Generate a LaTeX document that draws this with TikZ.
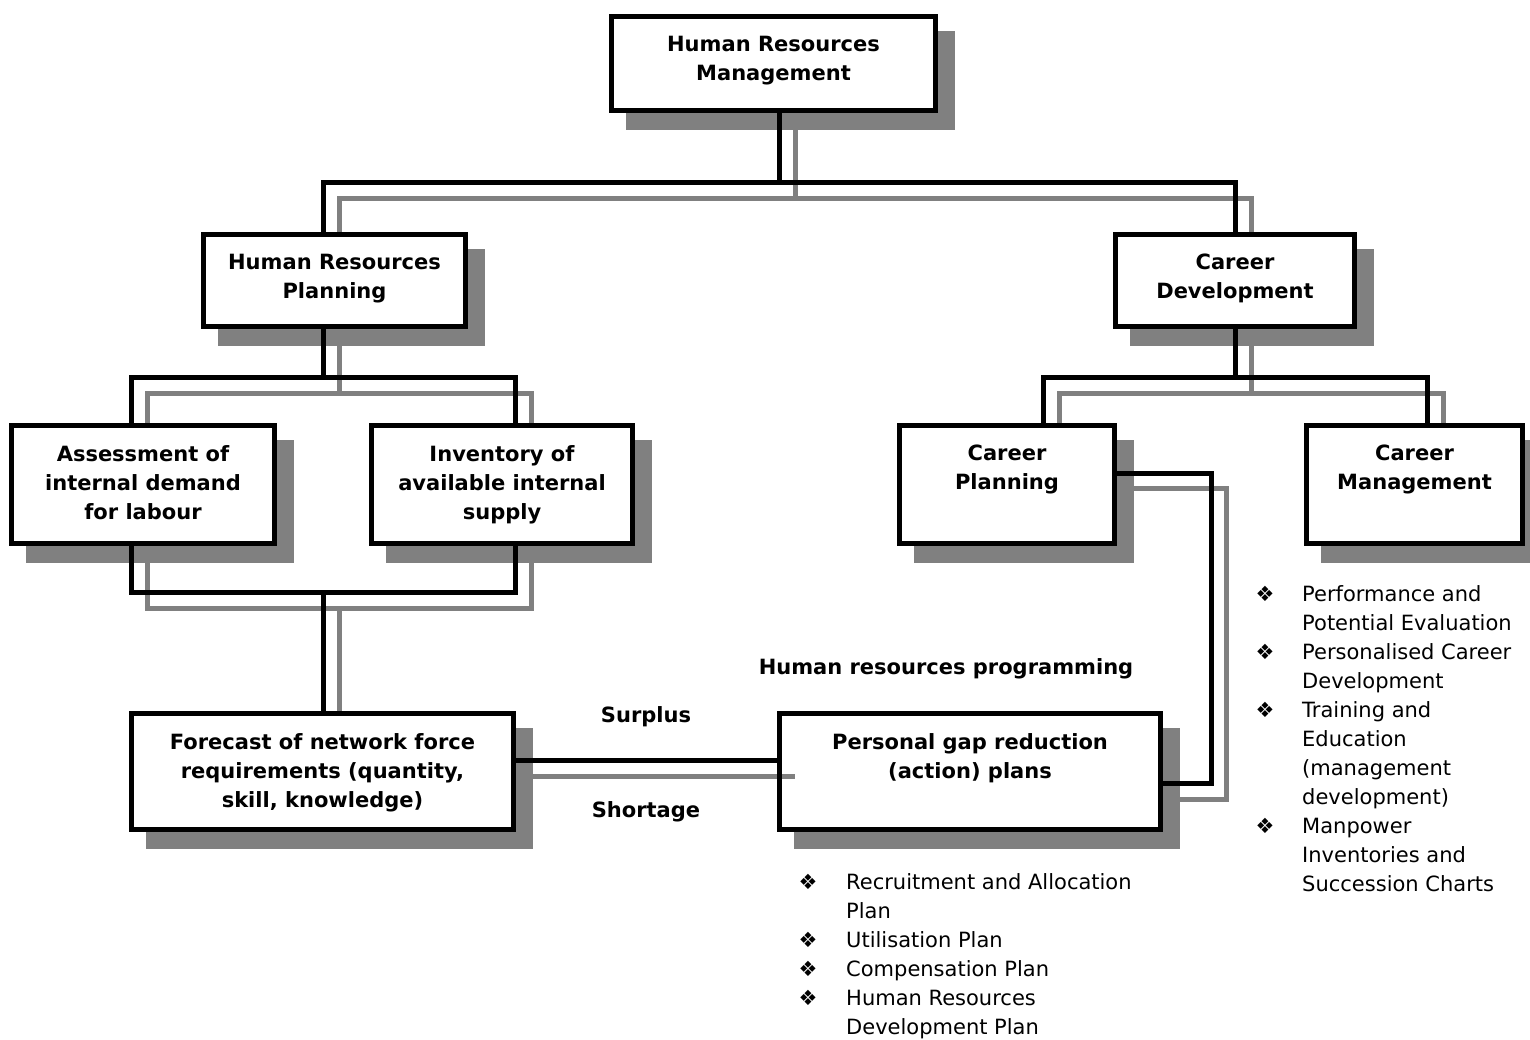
\documentclass[tikz,border=0pt]{standalone}
\usepackage{fontspec}
\setmainfont{DejaVu Sans}
\usetikzlibrary{calc}
\pgfdeclarelayer{back}
\pgfsetlayers{back,main}
\definecolor{shd}{HTML}{808080}
\begin{document}
\begin{tikzpicture}[x=1pt,y=-1pt,
  boxst/.style={draw=black, line width=5pt, inner sep=0pt, outer sep=2.5pt, anchor=north west},
  btxt/.style={font=\bfseries\fontsize{21}{29}\selectfont, align=center, inner sep=0pt, anchor=north},
  lbl/.style={font=\bfseries\fontsize{21}{29}\selectfont, inner sep=0pt, anchor=base},
  itm/.style={font=\fontsize{21}{29}\selectfont, inner sep=0pt, anchor=base west},
  bul/.style={font=\fontsize{21}{21}\selectfont, inner sep=0pt, anchor=center},
  blk/.style={line width=5pt, black, line join=miter},
  gry/.style={line width=5pt, shd, line join=miter}]
\useasboundingbox (0,0) rectangle (1530,1040);

% boxes
\node[boxst, minimum width=324pt, minimum height=94pt] (hrm) at (609,14) {};
\node[boxst, minimum width=262pt, minimum height=92pt] (hrp) at (201,232) {};
\node[boxst, minimum width=239pt, minimum height=92pt] (cd) at (1113,232) {};
\node[boxst, minimum width=263pt, minimum height=118pt] (as) at (9,423) {};
\node[boxst, minimum width=261pt, minimum height=118pt] (inv) at (369,423) {};
\node[boxst, minimum width=215pt, minimum height=118pt] (cp) at (897,423) {};
\node[boxst, minimum width=216pt, minimum height=118pt] (cm) at (1304,423) {};
\node[boxst, minimum width=382pt, minimum height=116pt] (fc) at (129,711) {};
\node[boxst, minimum width=381pt, minimum height=116pt] (pg) at (777,711) {};

% box texts
\node[btxt] (hrmT) at ([yshift=-22pt]hrm.north) {Human Resources\\Management};
\node[btxt] (hrpT) at ([yshift=-22pt]hrp.north) {Human Resources\\Planning};
\node[btxt] (cdT) at ([yshift=-22pt]cd.north) {Career\\Development};
\node[btxt] (asT) at ([yshift=-22pt]as.north) {Assessment of\\internal demand\\for labour};
\node[btxt] (invT) at ([yshift=-22pt]inv.north) {Inventory of\\available internal\\supply};
\node[btxt] (cpT) at ([yshift=-22pt]cp.north) {Career\\Planning};
\node[btxt] (cmT) at ([yshift=-22pt]cm.north) {Career\\Management};
\node[btxt] (fcT) at ([yshift=-22pt]fc.north) {Forecast of network force\\requirements (quantity,\\skill, knowledge)};
\node[btxt] (pgT) at ([yshift=-22pt]pg.north) {Personal gap reduction\\(action) plans};

% free labels
\node[lbl] (surplus) at (646,722) {Surplus};
\node[lbl] (shortage) at (646,817) {Shortage};
\node[lbl] (hrprog) at (946,674) {Human resources programming};

% junction coordinates
\coordinate (bJ) at (779,183);  \coordinate (bA) at (323,183);  \coordinate (bB) at (1235,183);
\coordinate (gJ) at (795,199);  \coordinate (gA) at (339,199);  \coordinate (gB) at (1251,199);
\coordinate (cJ) at (323,377);  \coordinate (cL) at (131,377);  \coordinate (cR) at (515,377);
\coordinate (gcJ) at (339,393); \coordinate (gcL) at (147,393); \coordinate (gcR) at (531,393);
\coordinate (dJ) at (1235,377); \coordinate (dL) at (1043,377); \coordinate (dR) at (1427,377);
\coordinate (gdJ) at (1251,393);\coordinate (gdL) at (1059,393);\coordinate (gdR) at (1443,393);
\coordinate (eJ) at (323,592);  \coordinate (eL) at (131,592);  \coordinate (eR) at (515,592);
\coordinate (geJ) at (339,608); \coordinate (geL) at (147,608); \coordinate (geR) at (531,608);
\coordinate (sB) at (640,760.5); \coordinate (sG) at (795,776);
\coordinate (k1) at (1211,473); \coordinate (k2) at (1211,783);
\coordinate (gk1) at (1226.5,488); \coordinate (gk2) at (1226.5,799);

\begin{pgfonlayer}{back}
  \foreach \n in {hrm,hrp,cd,as,inv,cp,cm,fc,pg}
    {\fill[shd] ([shift={(17,17)}]\n.north west) rectangle ([shift={(17,17)}]\n.south east);}
  \foreach \n in {hrm,hrp,cd,as,inv,cp,cm,fc,pg}
    {\fill[white] (\n.north west) rectangle (\n.south east);}
  % grey (shadow) connectors
  \draw[gry] (hrm.south -| gJ) -- (gJ);
  \draw[gry] (hrp.north -| gA) -- (gA) -- (gB) -- (cd.north -| gB);
  \draw[gry] (hrp.south -| gcJ) -- (gcJ);
  \draw[gry] (as.north -| gcL) -- (gcL) -- (gcR) -- (inv.north -| gcR);
  \draw[gry] (cd.south -| gdJ) -- (gdJ);
  \draw[gry] (cp.north -| gdL) -- (gdL) -- (gdR) -- (cm.north -| gdR);
  \draw[gry] (as.south -| geL) -- (geL) -- (geR) -- (inv.south -| geR);
  \draw[gry] (geJ) -- (fc.north -| geJ);
  \draw[gry] (fc.east |- sG) -- (sG);
  \draw[gry] (cp.east |- gk1) -- (gk1) -- (gk2) -- (pg.east |- gk2);
  % black connectors
  \draw[blk] (hrm.south -| bJ) -- (bJ);
  \draw[blk] (hrp.north -| bA) -- (bA) -- (bB) -- (cd.north -| bB);
  \draw[blk] (hrp.south -| cJ) -- (cJ);
  \draw[blk] (as.north -| cL) -- (cL) -- (cR) -- (inv.north -| cR);
  \draw[blk] (cd.south -| dJ) -- (dJ);
  \draw[blk] (cp.north -| dL) -- (dL) -- (dR) -- (cm.north -| dR);
  \draw[blk] (as.south -| eL) -- (eL) -- (eR) -- (inv.south -| eR);
  \draw[blk] (eJ) -- (fc.north -| eJ);
  \draw[blk] (fc.east |- sB) -- (pg.west |- sB);
  \draw[blk] (cp.east |- k1) -- (k1) -- (k2) -- (pg.east |- k2);
\end{pgfonlayer}

% bullet list under gap reduction plans
\node[bul] (b1a) at (808,882) {❖};
\node[bul] (b1b) at (808,940) {❖};
\node[bul] (b1c) at (808,969) {❖};
\node[bul] (b1d) at (808,998) {❖};
\node[itm] (t1a) at (846,889.5) {Recruitment and Allocation};
\node[itm] (t1b) at (846,918.5) {Plan};
\node[itm] (t1c) at (846,947.5) {Utilisation Plan};
\node[itm] (t1d) at (846,976.5) {Compensation Plan};
\node[itm] (t1e) at (846,1005.5) {Human Resources};
\node[itm] (t1f) at (846,1034.5) {Development Plan};

% bullet list under career management
\node[bul] (b2a) at (1265,594) {❖};
\node[bul] (b2b) at (1265,652) {❖};
\node[bul] (b2c) at (1265,710) {❖};
\node[bul] (b2d) at (1265,826) {❖};
\node[itm] (t2a) at (1302,601.5) {Performance and};
\node[itm] (t2b) at (1302,630.5) {Potential Evaluation};
\node[itm] (t2c) at (1302,659.5) {Personalised Career};
\node[itm] (t2d) at (1302,688.5) {Development};
\node[itm] (t2e) at (1302,717.5) {Training and};
\node[itm] (t2f) at (1302,746.5) {Education};
\node[itm] (t2g) at (1302,775.5) {(management};
\node[itm] (t2h) at (1302,804.5) {development)};
\node[itm] (t2i) at (1302,833.5) {Manpower};
\node[itm] (t2j) at (1302,862.5) {Inventories and};
\node[itm] (t2k) at (1302,891.5) {Succession Charts};
\end{tikzpicture}
\end{document}
